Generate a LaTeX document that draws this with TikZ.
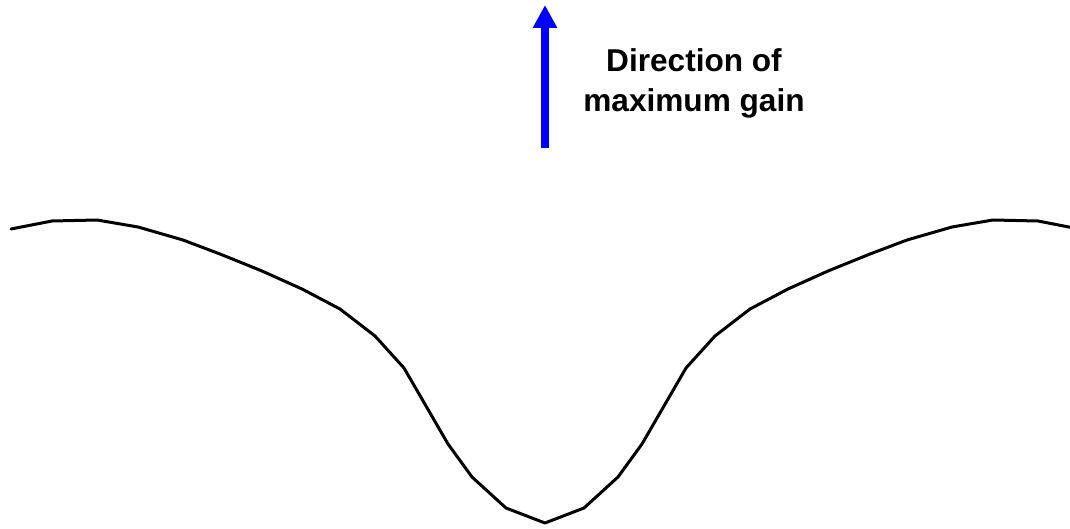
\documentclass[tikz,border=0pt]{standalone}
\usepackage{fontspec}
\setmainfont{Liberation Sans}
\usetikzlibrary{arrows.meta}
\definecolor{gainBlue}{HTML}{0000FF}
\tikzset{
  pattern/.style={draw=black, line width=3pt, line join=round, line cap=round},
  gainArrow/.style={-{Triangle[length=23pt,width=23pt]}, draw=gainBlue, line width=8pt},
  label/.style={font=\bfseries\fontsize{31.6}{40}\selectfont, text=black, align=center}
}

\begin{document}
\begin{tikzpicture}[x=1pt,y=-1pt]
\useasboundingbox (0,0) rectangle (1070,529);

% ------------------------------------------------------------
% TOP: direction of maximum gain
% ------------------------------------------------------------
\coordinate (arrowFoot) at (545,148);
\coordinate (arrowTip) at (545,5);
\draw[gainArrow] (arrowFoot) -- (arrowTip);
\node[label] (gainText) at (694,83) {Direction of\\maximum gain};

% ------------------------------------------------------------
% BOTTOM: gain pattern with its null at the centre
% ------------------------------------------------------------
\draw[pattern] (11,229) -- (52,221) -- (97,220) -- (138,227) -- (183,240)
  -- (220,254) -- (262,271) -- (302,289) -- (340,309) -- (375,336)
  -- (404,368) -- (448,444) -- (472,477) -- (506,508) -- (545,523)
  -- (584,508) -- (618,477) -- (642,444) -- (686,368) -- (715,336)
  -- (750,309) -- (788,289) -- (828,271) -- (870,254) -- (907,240)
  -- (952,227) -- (993,220) -- (1038,221) -- (1079,229);

\end{tikzpicture}
\end{document}
